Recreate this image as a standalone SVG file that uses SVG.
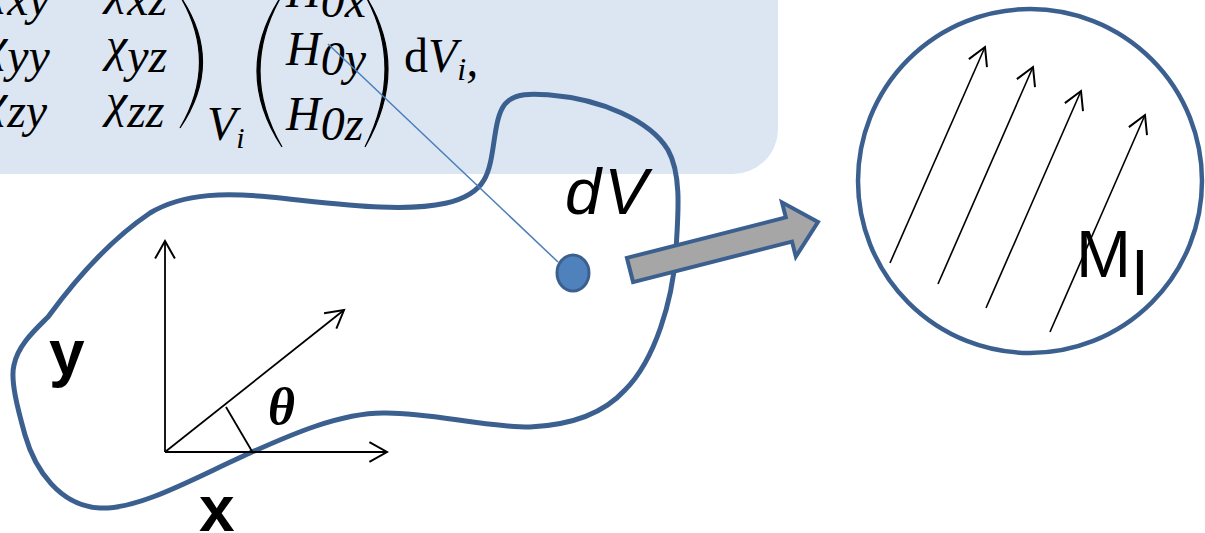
<svg xmlns="http://www.w3.org/2000/svg" width="1205" height="533" viewBox="0 0 1205 533">
<defs>
<style>
.math{font-family:"Liberation Serif","DejaVu Serif",serif;font-style:italic;font-size:48px;fill:#000}
.paren{fill:#000;stroke:#000;stroke-width:1.2}
.blob{fill:none;stroke:#3b6090;stroke-width:5}
.ax{fill:none;stroke:#000;stroke-width:1.8}
.mag{fill:none;stroke:#000;stroke-width:1.6}
.lbl{font-family:"Liberation Sans","Arial",sans-serif;fill:#000}
</style>
<marker id="open" markerUnits="userSpaceOnUse" markerWidth="22" markerHeight="22" viewBox="0 0 20 20" refX="17" refY="10" orient="auto">
<path d="M1,1 L17,10 L1,19" fill="none" stroke="#000" stroke-width="1.8"/>
</marker>
</defs>
<rect x="0" y="0" width="1205" height="533" fill="#fff"/>
<g id="formula">
<rect x="-60" y="-60" width="838" height="234" rx="45" fill="#dce6f2"/>
<text class="math" x="-14" y="4">χ<tspan dy="11">xy</tspan></text>
<text class="math" x="106" y="4">χ<tspan dy="11">xz</tspan></text>
<text class="math" x="-14" y="61">χ<tspan dy="11">yy</tspan></text>
<text class="math" x="106" y="61">χ<tspan dy="11">yz</tspan></text>
<text class="math" x="-14" y="117">χ<tspan dy="10">zy</tspan></text>
<text class="math" x="106" y="117">χ<tspan dy="10">zz</tspan></text>
<path class="paren" d="M180,-4 Q225,62 180,128 Q219,62 180,-4 Z"/>
<text class="math" x="207" y="140" font-size="33">V<tspan dy="8" font-size="30">i</tspan></text>
<path class="paren" d="M282,-5 Q232,71 282,147 Q238,71 282,-5 Z"/>
<text class="math" x="286" y="7">H<tspan dy="10">0x</tspan></text>
<text class="math" x="286" y="65">H<tspan dy="10">0y</tspan></text>
<text class="math" x="286" y="130">H<tspan dy="10">0z</tspan></text>
<path class="paren" d="M365,-5 Q411,67 365,147 Q405,67 365,-5 Z"/>
<text class="math" x="404" y="72"><tspan font-style="normal">d</tspan>V<tspan dy="8" font-size="32">i</tspan><tspan dy="-4">,</tspan></text>
</g>
<g id="body">
<path class="blob" d="M380,207 C430,209 470,204 484,180 C496,160 492,120 505,104 C515,92 535,94 550,95 C600,99 650,120 668,150 C682,175 678,215 676,250 C673,300 655,360 625,390 C605,412 575,425 530,427 C480,427 430,412 383,413 C340,413 290,435 250,453 C200,475 140,510 100,508 C60,506 35,470 25,435 C18,410 10,380 14,365 C18,345 35,330 48,317 C75,280 110,240 150,213 C185,192 230,193 270,197 C310,201 350,206 380,207 Z"/>
</g>
<g id="axes">
<line class="ax" x1="165" y1="452" x2="165" y2="241" marker-end="url(#open)"/>
<line class="ax" x1="165" y1="452" x2="387" y2="452" marker-end="url(#open)"/>
<line class="ax" x1="165" y1="452" x2="344" y2="310" marker-end="url(#open)"/>
<line class="ax" x1="226" y1="407" x2="253" y2="453"/>
<text x="268" y="424" font-family="Liberation Serif, serif" font-style="italic" font-weight="bold" font-size="52">θ</text>
<text class="lbl" x="49" y="375" font-size="64" font-weight="bold">y</text>
<text class="lbl" x="199" y="531" font-size="64" font-weight="bold">x</text>
</g>
<g id="connectors">
<line x1="328" y1="44" x2="558" y2="262" stroke="#4a7ebb" stroke-width="1.5"/>
</g>
<g id="dV">
<ellipse cx="573" cy="273" rx="16" ry="18" fill="#4f81bd" stroke="#3b6090" stroke-width="3"/>
<text class="lbl" x="565" y="214" font-size="65" font-style="italic" letter-spacing="3">dV</text>
</g>
<g id="arrow">
<polygon points="0,-12.5 164,-12.5 164,-28 194,0 164,28 164,12.5 0,12.5" transform="translate(630,270) rotate(-14.3)" fill="#a6a6a6" stroke="#3b6090" stroke-width="4"/>
</g>
<g id="magnet">
<circle cx="1030" cy="181" r="172" fill="none" stroke="#3b6090" stroke-width="4.5"/>
<line class="mag" x1="890" y1="263" x2="985" y2="47" marker-end="url(#open)"/>
<line class="mag" x1="938" y1="284" x2="1033" y2="67" marker-end="url(#open)"/>
<line class="mag" x1="986" y1="308" x2="1081" y2="91" marker-end="url(#open)"/>
<line class="mag" x1="1050" y1="332" x2="1145" y2="115" marker-end="url(#open)"/>
<text class="lbl" x="1076" y="277" font-size="66">M<tspan dy="18" font-size="64" font-weight="300">I</tspan></text>
</g>
</svg>
